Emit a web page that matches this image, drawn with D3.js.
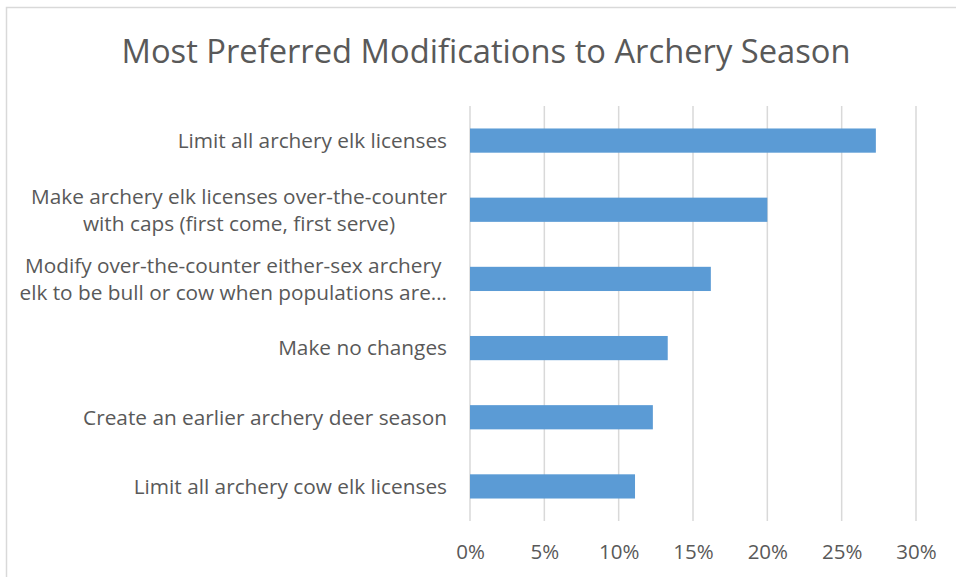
<!DOCTYPE html>
<html>
<head>
<meta charset="utf-8">
<style>
    body { margin: 0; background: #fff; }
    text { font-family: 'Open Sans', sans-serif; fill: #595959; }
</style>
</head>
<body>
<svg width="956" height="577" id="chart"></svg>
<script src="https://d3js.org/d3.v7.min.js"></script>
<script>

    // categories, top to bottom (line breaks as in the original labels)
    var categories = [
        "Limit all archery elk licenses",
        "Make archery elk licenses over-the-counter\nwith caps (first come, first serve)",
        "Modify over-the-counter either-sex archery\nelk to be bull or cow when populations are\u2026",
        "Make no changes",
        "Create an earlier archery deer season",
        "Limit all archery cow elk licenses"
    ];
    var values = [0.273, 0.200, 0.162, 0.133, 0.123, 0.111];
    var tickValues = [0, 0.05, 0.10, 0.15, 0.20, 0.25, 0.30];

    var svg = d3.select("svg");

    // chart border (only top and left edges show inside the frame)
    svg.append("rect")
        .attr("x", 6.5).attr("y", 7.5)
        .attr("width", 1000).attr("height", 700)
        .attr("fill", "none")
        .attr("stroke", "#d9d9d9")
        .attr("stroke-width", 1.5);

    var plot = {left: 470, right: 916, top: 106, bottom: 521};

    var x = d3.scaleLinear()
        .domain([0, 0.3])
        .range([plot.left, plot.right]);

    var y = d3.scaleBand()
        .domain(categories)
        .range([plot.top, plot.bottom])
        .paddingInner(0.65)
        .paddingOuter(0.325);

    // gridlines
    svg.append("g")
        .selectAll("line")
        .data(tickValues)
        .enter().append("line")
        .attr("x1", function(d) { return x(d); })
        .attr("x2", function(d) { return x(d); })
        .attr("y1", plot.top)
        .attr("y2", plot.bottom)
        .attr("stroke", "#d9d9d9")
        .attr("stroke-width", 1.5);

    // bars
    svg.append("g")
        .selectAll("rect")
        .data(values)
        .enter().append("rect")
        .attr("x", x(0))
        .attr("y", function(d, i) { return y(categories[i]); })
        .attr("width", function(d) { return x(d) - x(0); })
        .attr("height", y.bandwidth())
        .attr("fill", "#5b9bd5");

    // x axis labels
    var xAxis = svg.append("g")
        .attr("transform", "translate(0," + (plot.bottom + 31) + ")")
        .call(d3.axisBottom(x).tickValues(tickValues).tickFormat(d3.format(".0%")).tickSize(0).tickPadding(0));
    xAxis.select(".domain").remove();
    xAxis.selectAll("text")
        .attr("font-size", "20.5px")
        .attr("dy", "0.35em")
        .style("font-family", "'Open Sans', sans-serif")
        .style("fill", "#595959");

    // category labels: lines centred on each other, block right aligned
    var lineH = 27;
    var labels = svg.append("g")
        .selectAll("text")
        .data(categories)
        .enter().append("text")
        .attr("font-size", "20.8px")
        .attr("text-anchor", "middle");

    labels.each(function(d) {
        var t = d3.select(this);
        var lines = d.split("\n");
        var cy = y(d) + y.bandwidth() / 2 - (lines.length - 1) * lineH / 2;
        lines.forEach(function(l, i) {
            t.append("tspan")
                .attr("y", cy + i * lineH)
                .attr("dy", "0.35em")
                .text(l);
        });
        var w = d3.max(t.selectAll("tspan").nodes(), function(n) { return n.getComputedTextLength(); });
        t.selectAll("tspan").attr("x", 447 - w / 2);
    });

    // title
    svg.append("text")
        .attr("x", 486)
        .attr("y", 52)
        .attr("dy", "0.35em")
        .attr("text-anchor", "middle")
        .attr("font-size", "32.7px")
        .text("Most Preferred Modifications to Archery Season");

</script>
</body>
</html>
